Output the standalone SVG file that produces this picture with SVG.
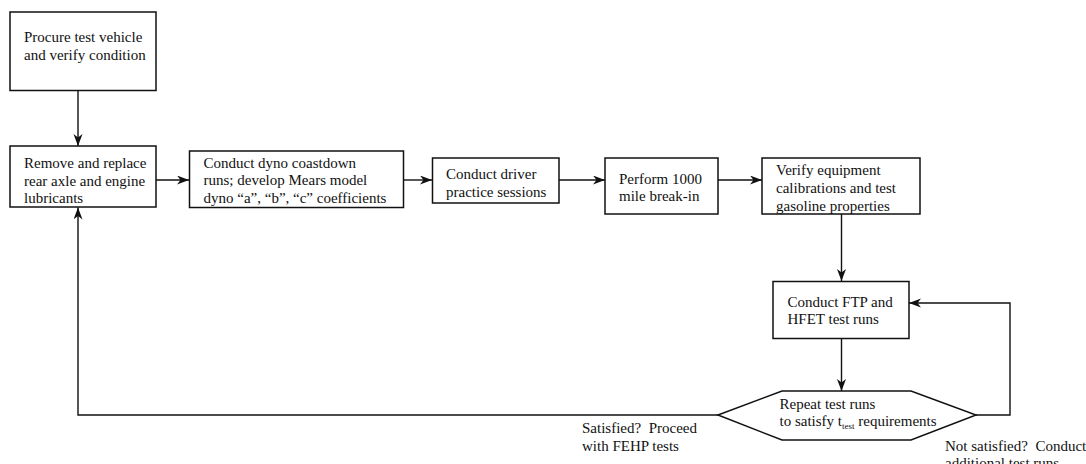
<svg xmlns="http://www.w3.org/2000/svg" width="1086" height="464" viewBox="0 0 1086 464">
<style>
.box{fill:#fff;stroke:#111;stroke-width:1.5}
.t{font-family:"Liberation Serif","Times New Roman",serif;font-size:15px;fill:#111}
.c{fill:none;stroke:#111;stroke-width:1.4}
</style>
<defs>
<marker id="ah" markerUnits="userSpaceOnUse" markerWidth="14" markerHeight="10" refX="12" refY="4.5" orient="auto" viewBox="0 0 14 10">
<path d="M0,0 L12,4.5 L0,9 L3.5,4.5 z" fill="#111"/>
</marker>
</defs>
<rect width="1086" height="464" fill="#fff"/>
<g id="connectors">
<path class="c" d="M78,90.5 L78,146" marker-end="url(#ah)"/>
<path class="c" d="M156,180 L189,180" marker-end="url(#ah)"/>
<path class="c" d="M403.5,180 L432,180" marker-end="url(#ah)"/>
<path class="c" d="M559,180 L605,180" marker-end="url(#ah)"/>
<path class="c" d="M718,180 L762,180" marker-end="url(#ah)"/>
<path class="c" d="M841.5,214 L841.5,281" marker-end="url(#ah)"/>
<path class="c" d="M841.5,339 L841.5,391" marker-end="url(#ah)"/>
<path class="c" d="M976,415 L1010,415 L1010,303 L909,303" marker-end="url(#ah)"/>
<path class="c" d="M718,415 L78,415 L78,207.5" marker-end="url(#ah)"/>
</g>
<g id="n1">
<rect class="box" x="10" y="12" width="146" height="78.5"/>
<text class="t" x="24" y="42">Procure test vehicle</text>
<text class="t" x="24" y="59.5">and verify condition</text>
</g>
<g id="n2">
<rect class="box" x="10" y="146" width="146" height="61"/>
<text class="t" x="24" y="168">Remove and replace</text>
<text class="t" x="24" y="185.5">rear axle and engine</text>
<text class="t" x="24" y="203">lubricants</text>
</g>
<g id="n3">
<rect class="box" x="189.5" y="151" width="214" height="56.5"/>
<text class="t" x="203.5" y="167.5">Conduct dyno coastdown</text>
<text class="t" x="203.5" y="185">runs; develop Mears model</text>
<text class="t" x="203.5" y="202.5">dyno “a”, “b”, “c” coefficients</text>
</g>
<g id="n4">
<rect class="box" x="432.5" y="158" width="126.5" height="45"/>
<text class="t" x="446" y="179">Conduct driver</text>
<text class="t" x="446" y="196.5">practice sessions</text>
</g>
<g id="n5">
<rect class="box" x="605" y="158" width="113" height="56"/>
<text class="t" x="619" y="183.5">Perform 1000</text>
<text class="t" x="619" y="201">mile break-in</text>
</g>
<g id="n6">
<rect class="box" x="762" y="158" width="158" height="56"/>
<text class="t" x="776" y="175">Verify equipment</text>
<text class="t" x="776" y="193">calibrations and test</text>
<text class="t" x="776" y="210.5">gasoline properties</text>
</g>
<g id="n7">
<rect class="box" x="773" y="281.5" width="136" height="57"/>
<text class="t" x="787.5" y="306.5">Conduct FTP and</text>
<text class="t" x="787.5" y="324">HFET test runs</text>
</g>
<g id="n8">
<polygon class="box" points="718,415 782,391 911,391 976,415 911,440 782,440"/>
<text class="t" x="779.5" y="408.5">Repeat test runs</text>
<text class="t" x="779.5" y="426">to satisfy t<tspan font-size="9" dy="2.5">test</tspan><tspan dy="-2.5"> requirements</tspan></text>
</g>
<g id="labels">
<text class="t" x="582" y="433" xml:space="preserve">Satisfied?  Proceed</text>
<text class="t" x="582" y="450.5">with FEHP tests</text>
<text class="t" x="945" y="450.5" xml:space="preserve">Not satisfied?  Conduct</text>
<text class="t" x="945" y="468">additional test runs</text>
</g>
</svg>
